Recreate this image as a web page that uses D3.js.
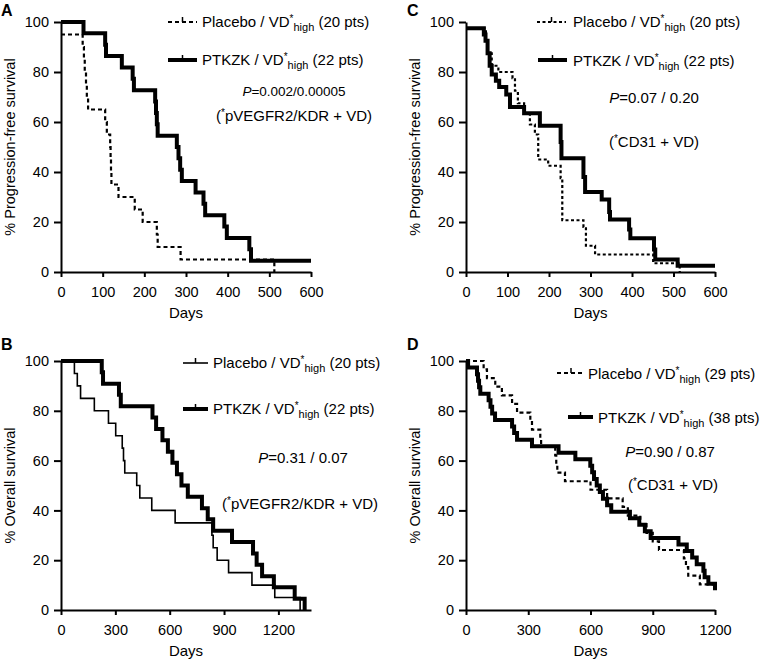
<!DOCTYPE html>
<html>
<head>
<meta charset="utf-8">
<script src="https://cdn.jsdelivr.net/npm/d3@7"></script>
<style>
    body { margin: 0; background: #fff; }
    svg { display: block; font-family: "Liberation Sans", Arial, Helvetica, sans-serif; }
</style>
</head>
<body>
<div id="chart"></div>
<script>
//Ticks
const yTicks = [0, 20, 40, 60, 80, 100];
const pfsTicks = [0, 100, 200, 300, 400, 500, 600];
const osTicks = [0, 300, 600, 900, 1200];

//A - Progression-free survival (pVEGFR2/KDR + VD)
const aPlaceboDays = [0, 52, 55, 57, 60, 62, 65, 106, 110, 118, 119, 120, 121, 138, 177, 196, 230, 232, 287, 512];
const aPlaceboPct  = [95, 90, 85, 80, 75, 70, 65, 60, 55, 50, 45, 40, 35, 30, 25, 20, 15, 10, 5, 0];
const aPtkzkDays = [0, 54, 106, 108, 146, 172, 175, 226, 228, 230, 232, 278, 282, 286, 290, 323, 342, 346, 392, 398, 452, 456, 600];
const aPtkzkPct  = [100, 95.5, 90.9, 86.4, 81.8, 77.3, 72.7, 68.2, 63.6, 59.1, 54.5, 50, 45.5, 40.9, 36.4, 31.8, 27.3, 22.7, 18.2, 13.6, 9.1, 4.5, 4.5];

//C - Progression-free survival (CD31 + VD)
const cPlaceboDays = [0, 48, 52, 62, 78, 112, 118, 125, 140, 154, 166, 174, 198, 228, 232, 283, 289, 311, 451, 515];
const cPlaceboPct  = [97.5, 92.5, 87.5, 82.5, 80, 77.5, 72.5, 67.5, 63.5, 59, 55, 45, 42.5, 37.5, 20.7, 18, 10.5, 7, 3.5, 0];
const cPtkzkDays = [0, 43, 47, 52, 57, 62, 72, 80, 97, 106, 140, 178, 228, 230, 283, 287, 327, 345, 347, 393, 396, 453, 456, 510, 600];
const cPtkzkPct  = [97.5, 95, 92.5, 87.5, 82.5, 79, 76.5, 74, 71, 66, 63.5, 58.5, 52, 45.5, 38, 32, 29, 24, 21, 17, 13.5, 9, 5, 2.5, 2.5];

//B - Overall survival (pVEGFR2/KDR + VD)
const bPlaceboDays = [0, 74, 90, 108, 184, 262, 302, 338, 345, 352, 418, 435, 501, 630, 833, 840, 862, 925, 1054, 1180, 1320];
const bPlaceboPct  = [100, 95, 90, 85, 80, 75, 70, 65, 60, 55, 50, 45, 40, 35, 30, 25, 20, 15, 10, 5, 0];
const bPtkzkDays = [0, 225, 232, 320, 330, 505, 525, 560, 590, 615, 640, 665, 700, 778, 810, 840, 944, 1060, 1080, 1110, 1175, 1290, 1345];
const bPtkzkPct  = [100, 95.5, 90.9, 86.4, 81.8, 77.3, 72.7, 68.2, 63.6, 59.1, 54.5, 50, 45.5, 40.9, 36.4, 31.8, 27.3, 22.7, 18.2, 13.6, 9.1, 4.5, 0];

//D - Overall survival (CD31 + VD)
const dPlaceboDays = [0, 85, 101, 141, 173, 222, 246, 310, 318, 358, 362, 430, 435, 440, 477, 600, 680, 755, 780, 840, 870, 900, 930, 1050, 1060, 1071, 1127, 1200];
const dPlaceboPct  = [100, 96.6, 93.1, 89.7, 86.2, 82.8, 79.3, 75.9, 72.4, 69, 65.5, 62.1, 58.6, 55.2, 51.7, 48.3, 44.8, 41.4, 37.9, 34.5, 31, 27.6, 24.1, 20.7, 17.2, 13.8, 10.3, 10.3];
const dPtkzkDays = [0, 10, 53, 58, 63, 69, 109, 118, 126, 140, 222, 232, 246, 318, 446, 527, 599, 608, 617, 630, 645, 660, 680, 700, 790, 835, 862, 890, 1024, 1064, 1090, 1112, 1144, 1150, 1168, 1200];
const dPtkzkPct  = [100, 97.4, 94.7, 92.1, 89.5, 86.8, 84.2, 81.6, 78.9, 76.3, 73.7, 71.1, 68.4, 65.8, 63.2, 60.5, 57.9, 55.3, 52.6, 50, 47.4, 44.7, 42.1, 39.5, 36.8, 34.2, 31.6, 28.9, 26.3, 23.7, 21.1, 18.4, 15.8, 13.2, 10.5, 7.9];

//Textos
const groupNames = ['Placebo', 'PTKZK'];
const ptsA = [20, 22], ptsB = [20, 22], ptsC = [20, 22], ptsD = [29, 38];
const pValues = ['=0.002/0.00005', '=0.31 / 0.07', '=0.07 / 0.20', '=0.90 / 0.87'];
const markers = ['pVEGFR2/KDR + VD)', 'CD31 + VD)'];

//Estilos de línea
const styles = {
    thick: { width: 4, dash: null },
    dashA: { width: 2.2, dash: '4,3' },
    dashC: { width: 2.2, dash: '3,2.5' },
    thin:  { width: 1.6, dash: null }
};

let svg = d3.select('#chart')
    .append('svg')
    .attr('width', 760)
    .attr('height', 660);

let panels = [
    { letter: 'A', lx: 1, ly: 16, left: 61, right: 311, top: 22, bottom: 272, xMax: 600, xTicks: pfsTicks,
      yTitle: '% Progression-free survival', titleX: 15,
      series: [[aPlaceboDays, aPlaceboPct, 'dashA'], [aPtkzkDays, aPtkzkPct, 'thick']],
      leg: [[168, 197, 22, 202, 27], [168, 197, 60, 202, 65]], pts: ptsA,
      pText: pValues[0], pX: 294, pY: 96, pSize: 13.5, note: markers[0], nX: 294, nY: 121 },
    { letter: 'C', lx: 407, ly: 16, left: 466, right: 715, top: 22, bottom: 272, xMax: 600, xTicks: pfsTicks,
      yTitle: '% Progression-free survival', titleX: 420,
      series: [[cPlaceboDays, cPlaceboPct, 'dashC'], [cPtkzkDays, cPtkzkPct, 'thick']],
      leg: [[537, 566, 22, 573, 27], [538, 567, 60, 573, 66]], pts: ptsC,
      pText: pValues[2], pX: 654, pY: 103, pSize: 15, note: markers[1], nX: 654, nY: 147 },
    { letter: 'B', lx: 1, ly: 350, left: 61, right: 311, top: 361, bottom: 610, xMax: 1380, xTicks: osTicks,
      yTitle: '% Overall survival', titleX: 15,
      series: [[bPlaceboDays, bPlaceboPct, 'thin'], [bPtkzkDays, bPtkzkPct, 'thick']],
      leg: [[183, 208, 363, 213, 368], [183, 208, 409, 213, 414]], pts: ptsB,
      pText: pValues[1], pX: 303, pY: 463, pSize: 15, note: markers[0], nX: 300, nY: 509 },
    { letter: 'D', lx: 407, ly: 350, left: 466, right: 715, top: 361, bottom: 610, xMax: 1200, xTicks: osTicks,
      yTitle: '% Overall survival', titleX: 420,
      series: [[dPlaceboDays, dPlaceboPct, 'dashA'], [dPtkzkDays, dPtkzkPct, 'thick']],
      leg: [[557, 585, 373, 588, 379], [568, 593, 417, 598, 423]], pts: ptsD,
      pText: pValues[3], pX: 670, pY: 457, pSize: 15, note: markers[1], nX: 673, nY: 490 }
];

function styleAxis(g, size) {
    g.attr('font-family', null).attr('font-size', size);
    g.select('.domain').attr('stroke-width', 2).attr('stroke', '#000');
    g.selectAll('.tick line').attr('stroke-width', 2).attr('stroke', '#000');
    g.selectAll('.tick text').attr('fill', '#000');
}

panels.forEach(function(p) {
    let g = svg.append('g');

    let x = d3.scaleLinear().domain([0, p.xMax]).range([p.left, p.right]);
    let y = d3.scaleLinear().domain([0, 100]).range([p.bottom, p.top]);

    //Ejes
    g.append('g')
        .attr('transform', 'translate(0,' + p.bottom + ')')
        .call(d3.axisBottom(x).tickValues(p.xTicks).tickFormat(d3.format('d')).tickSize(5).tickPadding(10).tickSizeOuter(0))
        .call(styleAxis, 14.5);

    g.append('g')
        .attr('transform', 'translate(' + p.left + ',0)')
        .call(d3.axisLeft(y).tickValues(yTicks).tickFormat(d3.format('d')).tickSize(7).tickPadding(5).tickSizeOuter(0))
        .call(styleAxis, 14.5);

    //Títulos
    g.append('text')
        .attr('x', p.lx).attr('y', p.ly)
        .attr('font-size', 16).attr('font-weight', 'bold')
        .text(p.letter);

    g.append('text')
        .attr('transform', 'translate(' + p.titleX + ',' + ((p.top + p.bottom) / 2) + ') rotate(-90)')
        .attr('text-anchor', 'middle')
        .attr('font-size', 14.5)
        .text(p.yTitle);

    g.append('text')
        .attr('x', (p.left + p.right) / 2).attr('y', p.bottom + 46)
        .attr('text-anchor', 'middle')
        .attr('font-size', 15)
        .text('Days');

    //Curvas
    let line = d3.line()
        .x(function(d) { return x(d[0]); })
        .y(function(d) { return y(d[1]); })
        .curve(d3.curveStepAfter);

    p.series.forEach(function(s) {
        let pts = s[0].map(function(d, i) { return [d, s[1][i]]; });
        let st = styles[s[2]];
        g.append('path')
            .datum(pts)
            .attr('d', line)
            .attr('fill', 'none')
            .attr('stroke', '#000')
            .attr('stroke-width', st.width)
            .attr('stroke-dasharray', st.dash);
    });

    //Leyenda
    p.leg.forEach(function(l, i) {
        let st = styles[p.series[i][2]];
        g.append('line')
            .attr('x1', l[0]).attr('x2', l[1]).attr('y1', l[2]).attr('y2', l[2])
            .attr('stroke', '#000').attr('stroke-width', st.width)
            .attr('stroke-dasharray', st.dash);
        g.append('line')
            .attr('x1', (l[0] + l[1]) / 2).attr('x2', (l[0] + l[1]) / 2)
            .attr('y1', l[2] - 5).attr('y2', l[2])
            .attr('stroke', '#000').attr('stroke-width', 1.5);

        let t = g.append('text').attr('x', l[3]).attr('y', l[4]).attr('font-size', 15);
        t.append('tspan').text(groupNames[i] + ' / VD');
        t.append('tspan').attr('font-size', 10).attr('dy', -5).text('*');
        t.append('tspan').attr('font-size', 11).attr('dy', 9).text('high');
        t.append('tspan').attr('dy', -4).text(' (' + p.pts[i] + ' pts)');
    });

    //P y marcador
    let pt = g.append('text')
        .attr('x', p.pX).attr('y', p.pY)
        .attr('text-anchor', 'middle')
        .attr('font-size', p.pSize);
    pt.append('tspan').attr('font-style', 'italic').text('P');
    pt.append('tspan').text(p.pText);

    let nt = g.append('text')
        .attr('x', p.nX).attr('y', p.nY)
        .attr('text-anchor', 'middle')
        .attr('font-size', 15);
    nt.append('tspan').text('(');
    nt.append('tspan').attr('font-size', 10).attr('dy', -5).text('*');
    nt.append('tspan').attr('dy', 5).text(p.note);
});
</script>
</body>
</html>
